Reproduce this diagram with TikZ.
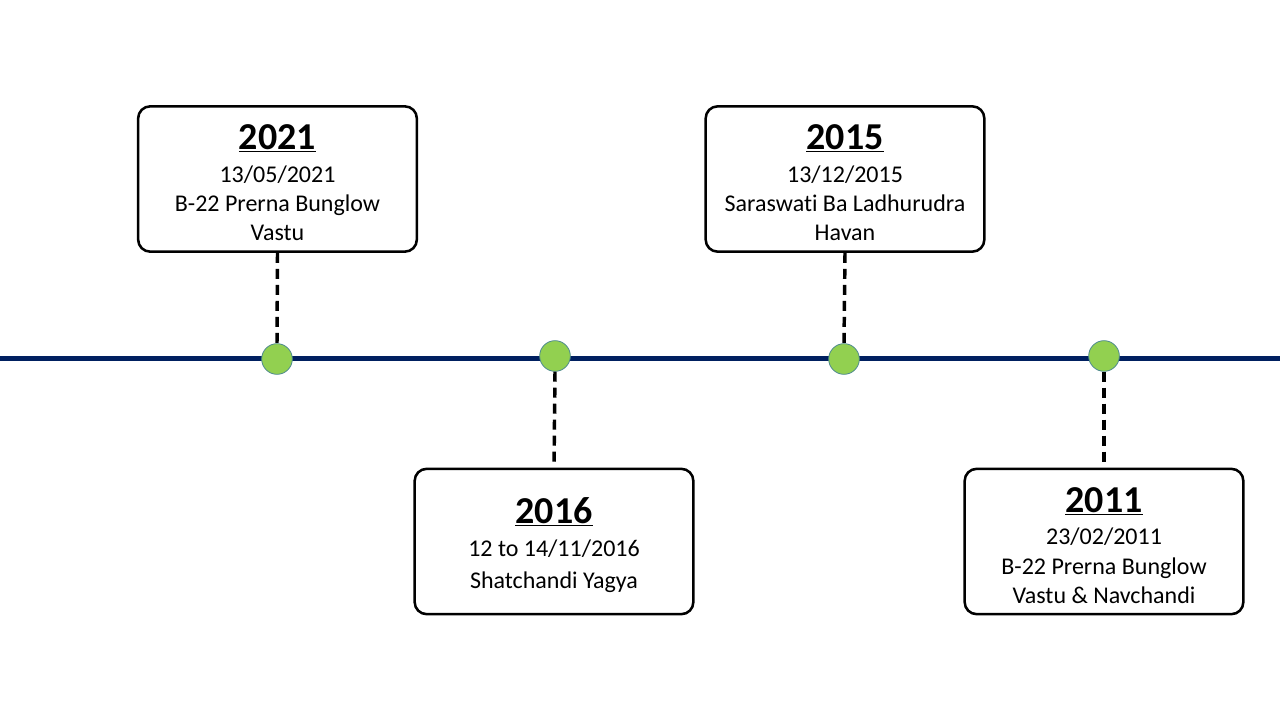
\documentclass[tikz,border=0pt]{standalone}
\usepackage{fontspec}
\setmainfont{Carlito}[Ligatures=NoCommon]
\definecolor{lineblue}{HTML}{002060}
\definecolor{dotgreen}{HTML}{92D050}
\definecolor{dotrim}{HTML}{4E8A8E}
\newcommand{\yr}[1]{{\fontsize{28.5}{30}\selectfont\bfseries\rule{0pt}{24.5pt}\underline{#1}}\\[2.5pt]}
\tikzset{
  eventbox/.style={draw, line width=1.9pt, rounded corners=9pt, minimum width=209pt,
    minimum height=109pt, align=center, inner sep=0pt,
    font=\fontsize{18}{22}\selectfont},
  stem/.style={line width=2.6pt, dash pattern=on 7.5pt off 4.5pt},
  event/.style={circle, fill=dotgreen, draw=dotrim, line width=0.6pt,
    minimum size=23pt, inner sep=0pt},
}
\begin{document}
\begin{tikzpicture}[x=0.75pt, y=-0.75pt]
        \useasboundingbox (0,0) rectangle (1280,720);
        \coordinate (L)    at (0,358);
        \coordinate (R)    at (1280,358);
        \draw[lineblue, line width=3.75pt] (L) -- (R);
        % boxes above and below the line
        \node[eventbox] (b2021) at (277.5,179) {\yr{2021}13/05/2021\\B-22 Prerna Bunglow\\Vastu};
        \node[eventbox] (b2015) at (845,179) {\yr{2015}13/12/2015\\Saraswati Ba Ladhurudra\\Havan};
        \node[eventbox] (b2016) at (554,541.5) {\yr{2016}12 to 14/11/2016\\[2pt]Shatchandi Yagya};
        \node[eventbox] (b2011) at (1104,541.5) {\yr{2011}23/02/2011\\B-22 Prerna Bunglow\\Vastu \& Navchandi};
        \node[event] (d2021) at (277,359) {};
        \node[event] (d2016) at (555,356) {};
        \node[event] (d2015) at (844,359) {};
        \node[event] (d2011) at (1104,356) {};
        \draw[stem] (b2021.south) -- (d2021.north);
        \draw[stem] (b2015.south) -- (d2015.north);
        \draw[stem] (d2016.south) -- (b2016.north);
        \draw[stem] (d2011.south) -- (b2011.north);
    \end{tikzpicture}
\end{document}
